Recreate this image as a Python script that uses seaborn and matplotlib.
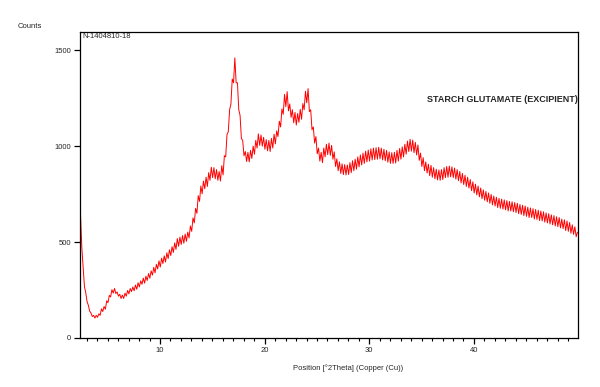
import matplotlib
matplotlib.use("Agg")
import matplotlib.pyplot as plt
import seaborn as sns
import pandas as pd
from matplotlib.ticker import MultipleLocator, FixedLocator

# scan positions (°2Theta), one row per degree
two_theta = [
    2.400, 2.525, 2.650, 2.775, 2.900, 3.025, 3.150, 3.275,
    3.400, 3.525, 3.650, 3.775, 3.900, 4.025, 4.150, 4.275,
    4.400, 4.525, 4.650, 4.775, 4.900, 5.025, 5.150, 5.275,
    5.400, 5.525, 5.650, 5.775, 5.900, 6.025, 6.150, 6.275,
    6.400, 6.525, 6.650, 6.775, 6.900, 7.025, 7.150, 7.275,
    7.400, 7.525, 7.650, 7.775, 7.900, 8.025, 8.150, 8.275,
    8.400, 8.525, 8.650, 8.775, 8.900, 9.025, 9.150, 9.275,
    9.400, 9.525, 9.650, 9.775, 9.900, 10.025, 10.150, 10.275,
    10.400, 10.525, 10.650, 10.775, 10.900, 11.025, 11.150, 11.275,
    11.400, 11.525, 11.650, 11.775, 11.900, 12.025, 12.150, 12.275,
    12.400, 12.525, 12.650, 12.775, 12.900, 13.025, 13.150, 13.275,
    13.400, 13.525, 13.650, 13.775, 13.900, 14.025, 14.150, 14.275,
    14.400, 14.525, 14.650, 14.775, 14.900, 15.025, 15.150, 15.275,
    15.400, 15.525, 15.650, 15.775, 15.900, 16.025, 16.150, 16.275,
    16.400, 16.525, 16.650, 16.775, 16.900, 17.025, 17.150, 17.275,
    17.400, 17.525, 17.650, 17.775, 17.900, 18.025, 18.150, 18.275,
    18.400, 18.525, 18.650, 18.775, 18.900, 19.025, 19.150, 19.275,
    19.400, 19.525, 19.650, 19.775, 19.900, 20.025, 20.150, 20.275,
    20.400, 20.525, 20.650, 20.775, 20.900, 21.025, 21.150, 21.275,
    21.400, 21.525, 21.650, 21.775, 21.900, 22.025, 22.150, 22.275,
    22.400, 22.525, 22.650, 22.775, 22.900, 23.025, 23.150, 23.275,
    23.400, 23.525, 23.650, 23.775, 23.900, 24.025, 24.150, 24.275,
    24.400, 24.525, 24.650, 24.775, 24.900, 25.025, 25.150, 25.275,
    25.400, 25.525, 25.650, 25.775, 25.900, 26.025, 26.150, 26.275,
    26.400, 26.525, 26.650, 26.775, 26.900, 27.025, 27.150, 27.275,
    27.400, 27.525, 27.650, 27.775, 27.900, 28.025, 28.150, 28.275,
    28.400, 28.525, 28.650, 28.775, 28.900, 29.025, 29.150, 29.275,
    29.400, 29.525, 29.650, 29.775, 29.900, 30.025, 30.150, 30.275,
    30.400, 30.525, 30.650, 30.775, 30.900, 31.025, 31.150, 31.275,
    31.400, 31.525, 31.650, 31.775, 31.900, 32.025, 32.150, 32.275,
    32.400, 32.525, 32.650, 32.775, 32.900, 33.025, 33.150, 33.275,
    33.400, 33.525, 33.650, 33.775, 33.900, 34.025, 34.150, 34.275,
    34.400, 34.525, 34.650, 34.775, 34.900, 35.025, 35.150, 35.275,
    35.400, 35.525, 35.650, 35.775, 35.900, 36.025, 36.150, 36.275,
    36.400, 36.525, 36.650, 36.775, 36.900, 37.025, 37.150, 37.275,
    37.400, 37.525, 37.650, 37.775, 37.900, 38.025, 38.150, 38.275,
    38.400, 38.525, 38.650, 38.775, 38.900, 39.025, 39.150, 39.275,
    39.400, 39.525, 39.650, 39.775, 39.900, 40.025, 40.150, 40.275,
    40.400, 40.525, 40.650, 40.775, 40.900, 41.025, 41.150, 41.275,
    41.400, 41.525, 41.650, 41.775, 41.900, 42.025, 42.150, 42.275,
    42.400, 42.525, 42.650, 42.775, 42.900, 43.025, 43.150, 43.275,
    43.400, 43.525, 43.650, 43.775, 43.900, 44.025, 44.150, 44.275,
    44.400, 44.525, 44.650, 44.775, 44.900, 45.025, 45.150, 45.275,
    45.400, 45.525, 45.650, 45.775, 45.900, 46.025, 46.150, 46.275,
    46.400, 46.525, 46.650, 46.775, 46.900, 47.025, 47.150, 47.275,
    47.400, 47.525, 47.650, 47.775, 47.900, 48.025, 48.150, 48.275,
    48.400, 48.525, 48.650, 48.775, 48.900, 49.025, 49.150, 49.275,
    49.400, 49.525, 49.650, 49.775, 49.900,
]

# counts (with its visible noise)
counts = [
    640, 470, 372, 268, 236, 190, 170, 140,
    130, 112, 118, 104, 118, 108, 126, 118,
    152, 138, 164, 150, 194, 184, 222, 214,
    252, 234, 258, 232, 240, 218, 228, 206,
    224, 206, 234, 218, 248, 230, 258, 242,
    266, 246, 276, 254, 288, 266, 298, 280,
    312, 286, 322, 300, 336, 312, 350, 328,
    368, 340, 384, 360, 402, 370, 416, 388,
    428, 396, 444, 414, 460, 430, 476, 446,
    496, 462, 518, 478, 526, 488, 534, 494,
    542, 504, 552, 522, 584, 556, 626, 600,
    676, 650, 742, 712, 792, 752, 818, 778,
    838, 790, 862, 822, 890, 836, 888, 830,
    878, 822, 868, 818, 898, 850, 950, 944,
    1060, 1076, 1190, 1220, 1350, 1330, 1460, 1330,
    1330, 1190, 1160, 1040, 1030, 950, 972, 920,
    968, 918, 978, 936, 1000, 958, 1030, 990,
    1064, 1004, 1058, 1000, 1046, 984, 1034, 976,
    1030, 972, 1040, 990, 1062, 1012, 1080, 1050,
    1130, 1100, 1194, 1166, 1270, 1206, 1284, 1184,
    1220, 1150, 1190, 1122, 1176, 1110, 1170, 1124,
    1192, 1140, 1222, 1190, 1286, 1226, 1300, 1180,
    1190, 1086, 1100, 1016, 1050, 960, 990, 922,
    968, 914, 990, 944, 1010, 956, 1016, 952,
    1004, 932, 970, 894, 934, 872, 918, 858,
    908, 852, 904, 850, 902, 852, 914, 862,
    924, 872, 932, 880, 944, 892, 954, 902,
    964, 910, 974, 918, 980, 922, 986, 928,
    990, 930, 992, 932, 994, 934, 990, 928,
    984, 924, 978, 916, 970, 910, 966, 910,
    968, 912, 978, 922, 988, 932, 996, 944,
    1010, 958, 1026, 972, 1036, 974, 1032, 966,
    1020, 954, 1006, 926, 964, 894, 940, 872,
    918, 860, 906, 846, 900, 838, 888, 830,
    880, 824, 876, 822, 878, 826, 888, 836,
    894, 838, 896, 840, 892, 836, 886, 828,
    878, 820, 868, 808, 858, 800, 848, 790,
    838, 782, 826, 768, 814, 756, 802, 746,
    792, 736, 782, 726, 772, 718, 764, 710,
    756, 702, 748, 694, 740, 688, 734, 680,
    728, 676, 724, 672, 720, 668, 716, 662,
    712, 662, 710, 658, 706, 654, 702, 648,
    696, 644, 692, 638, 688, 634, 682, 628,
    678, 628, 674, 620, 670, 618, 666, 612,
    662, 610, 658, 604, 652, 600, 648, 594,
    642, 590, 638, 584, 632, 580, 628, 574,
    620, 570, 616, 560, 610, 556, 602, 546,
    590, 540, 580, 528, 552,
]

x_major_ticks = [10, 20, 30, 40]
y_major_ticks = [0, 500, 1000, 1500]
sample_id = "N-1404810-18"
sample_name = "STARCH GLUTAMATE (EXCIPIENT)"
x_title = "Position [°2Theta] (Copper (Cu))"
y_title = "Counts"

assert len(two_theta) == len(counts)
df = pd.DataFrame({"two_theta": two_theta, "counts": counts})

sns.set_style("white")
plt.rcParams["font.family"] = ["Liberation Sans", "DejaVu Sans"]

fig = plt.figure(figsize=(6.0, 3.87), dpi=100)
ax = fig.add_axes([80 / 600, 1 - 338 / 387, (578 - 80) / 600, (338 - 32) / 387])

sns.lineplot(data=df, x="two_theta", y="counts", ax=ax, color="#ff0000",
             linewidth=0.7, estimator=None, sort=False)

ax.set_xlim(2.35, 49.95)
ax.set_ylim(0, 1595)
ax.xaxis.set_major_locator(FixedLocator(x_major_ticks))
ax.xaxis.set_minor_locator(MultipleLocator(1))
ax.yaxis.set_major_locator(FixedLocator(y_major_ticks))
ax.set_xlabel("")
ax.set_ylabel("")

for s in ax.spines.values():
    s.set_color("black")
    s.set_linewidth(0.9)

ax.tick_params(axis="both", which="major", direction="out", length=4,
               width=0.9, color="black", labelsize=5.5, pad=2.5,
               bottom=True, left=True, top=False, right=False)
ax.tick_params(axis="x", which="minor", direction="out", length=2.2,
               width=0.8, color="black", bottom=True, top=False)

ax.text(0.004, 0.997, sample_id, transform=ax.transAxes, ha="left", va="top",
        fontsize=5.5)
ax.text(1.0, 0.78, sample_name, transform=ax.transAxes, ha="right", va="center",
        fontsize=6.5, fontweight="bold")

fig.text(18 / 600, 1 - 27 / 387, y_title, ha="left", va="center", fontsize=5.5)
fig.text(293 / 600, 1 - 368 / 387, x_title, ha="left", va="center", fontsize=5.5)

fig.savefig("out.png", dpi=100)
